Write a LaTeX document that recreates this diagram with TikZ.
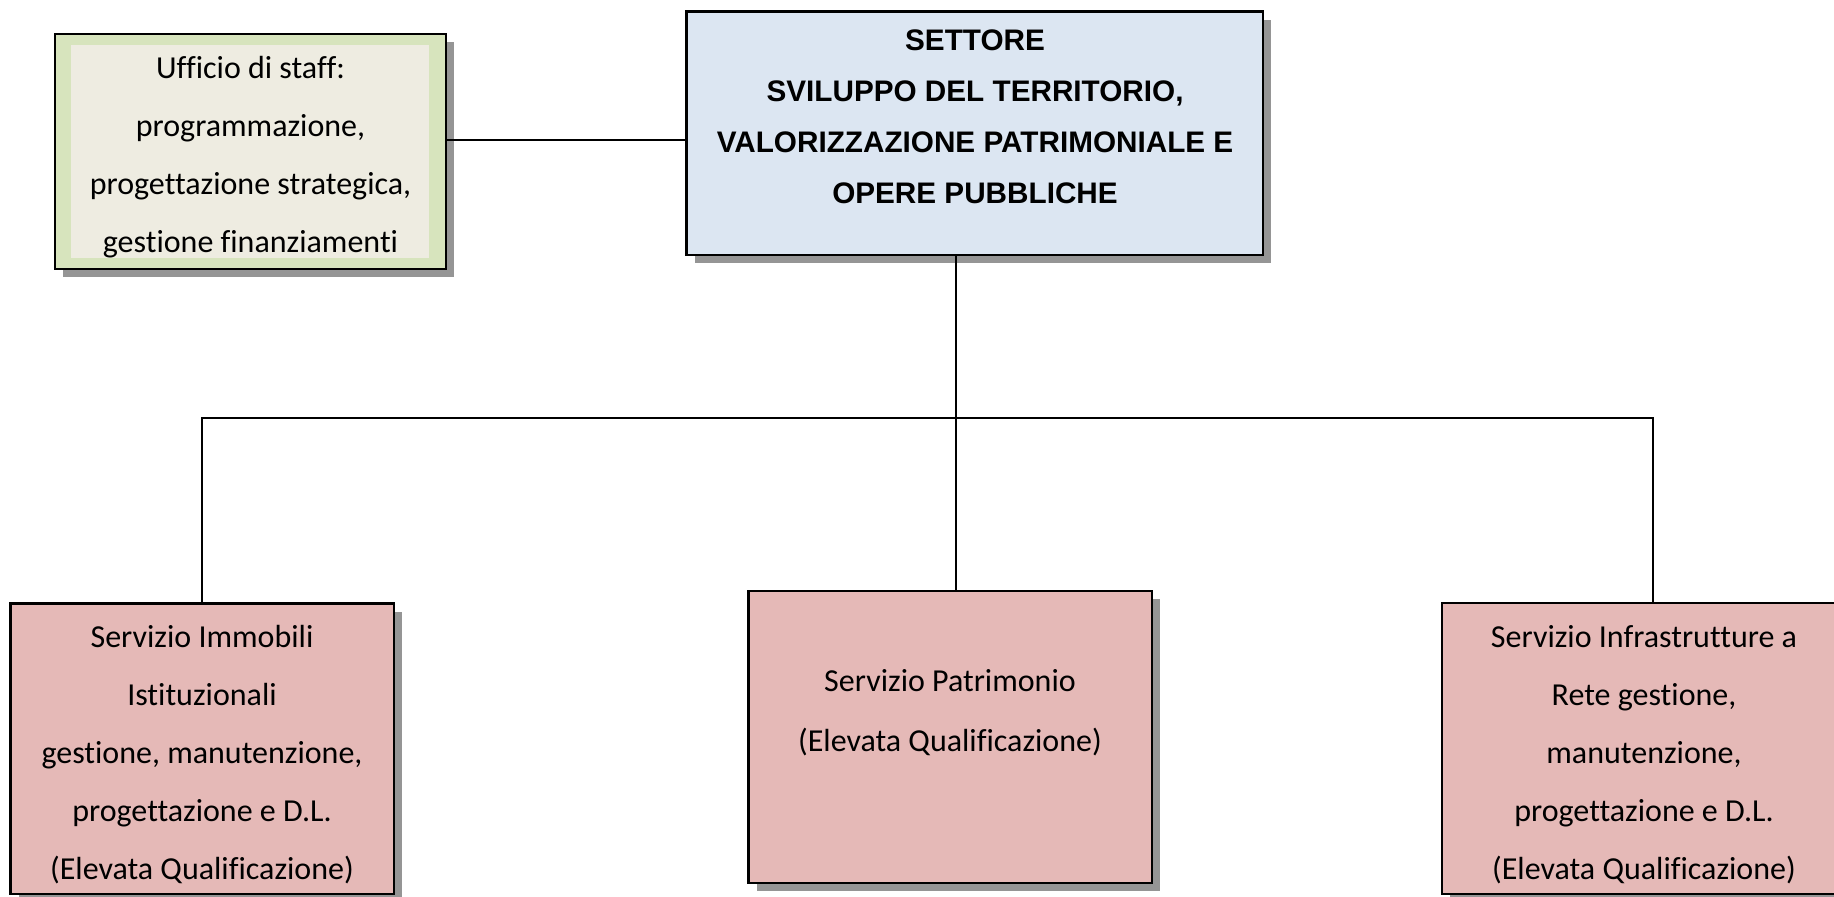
\documentclass[tikz,border=0pt]{standalone}
\usepackage{fontspec}
\setmainfont{Carlito}[Ligatures=NoCommon]
\newfontfamily\headfont{Liberation Sans}
\usetikzlibrary{fit,shadows}
\definecolor{staffgreen}{HTML}{D7E4BD}
\definecolor{staffcream}{HTML}{EEECE1}
\definecolor{mainblue}{HTML}{DCE6F2}
\definecolor{unitrose}{HTML}{E5B9B7}
\definecolor{shade}{HTML}{959595}
\begin{document}
\begin{tikzpicture}[x=0.5pt,y=-0.5pt,
  every node/.style={inner sep=0pt, outer sep=0pt},
  boxframe/.style={draw=black, line width=1.4pt,
    drop shadow={shadow xshift=4pt, shadow yshift=-4pt, fill=shade, opacity=1}},
  wire/.style={draw=black, line width=1pt},
  bodytext/.style={align=center, anchor=base, font=\fontsize{16}{29}\selectfont},
  headtext/.style={align=center, anchor=base, font=\headfont\bfseries\fontsize{14.85}{25.5}\selectfont}]
\clip (0,0) rectangle (1834,896);

% boxes
\node[boxframe, fill=staffgreen, fit={(55,34) (446,269)}] (staff) {};
\node[fill=staffcream, fit={(71,45) (429,258)}] (staffin) {};
\node[boxframe, fill=mainblue, fit={(686.6,11.7) (1263,255)}] (main) {};
\node[boxframe, fill=unitrose, fit={(10.5,603.5) (394,894)}] (immobili) {};
\node[boxframe, fill=unitrose, fit={(748.6,591) (1152,883)}] (patrimonio) {};
\node[boxframe, fill=unitrose, fit={(1442,603) (1860,894)}] (infra) {};

% connectors
\coordinate (hub) at (955.6,417.5);
\coordinate (staffjoin) at (446,140);
\coordinate (dropL) at (202,417.5);
\coordinate (dropR) at (1652.7,417.5);
\draw[wire] (staff.east |- staffjoin) -- (main.west |- staffjoin);
\draw[wire] (hub |- main.south) -- (hub |- patrimonio.north);
\draw[wire] (immobili.north -| dropL) -- (dropL) -- (dropR) -- (infra.north -| dropR);

% texts (positioned by the baseline of their last line)
\node[headtext] (maintext) at (975,203) {SETTORE\\SVILUPPO DEL TERRITORIO,\\VALORIZZAZIONE PATRIMONIALE E\\OPERE PUBBLICHE};
\node[bodytext] (stafftext) at (250.5,252) {Ufficio di staff:\\programmazione,\\progettazione strategica,\\gestione finanziamenti};
\node[bodytext] (immobilitext) at (202,879) {Servizio Immobili\\Istituzionali\\gestione, manutenzione,\\progettazione e D.L.\\(Elevata Qualificazione)};
\node[bodytext, font=\fontsize{16}{30}\selectfont] (patrimoniotext) at (950,751) {Servizio Patrimonio\\(Elevata Qualificazione)};
\node[bodytext] (infratext) at (1644,879) {Servizio Infrastrutture a\\Rete gestione,\\manutenzione,\\progettazione e D.L.\\(Elevata Qualificazione)};
\end{tikzpicture}
\end{document}
